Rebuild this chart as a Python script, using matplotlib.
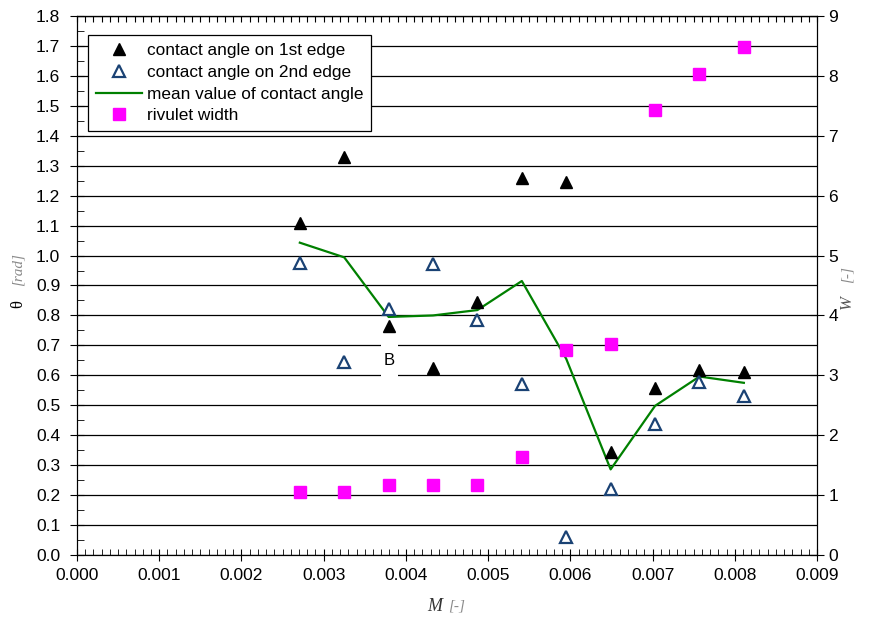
"""Contact angle and rivulet width against M, twin y axes."""
import matplotlib.pyplot as plt
from matplotlib.patches import Rectangle
from matplotlib.ticker import MultipleLocator, NullFormatter

plt.rcParams["font.family"] = ["Liberation Sans", "DejaVu Sans"]

# values
m_values = [0.00271, 0.00325, 0.00379, 0.00433, 0.00487, 0.00541,
            0.00595, 0.00649, 0.00703, 0.00757, 0.00811]
theta_first = [1.109, 1.330, 0.765, 0.625, 0.845, 1.258,
               1.247, 0.345, 0.557, 0.618, 0.612]
theta_second = [0.976, 0.645, 0.822, 0.972, 0.785, 0.571,
                0.061, 0.219, 0.437, 0.579, 0.531]
theta_mean = [1.043, 0.994, 0.795, 0.800, 0.818, 0.915,
              0.655, 0.286, 0.498, 0.596, 0.575]
rivulet_width = [1.06, 1.06, 1.17, 1.17, 1.17, 1.64,
                 3.42, 3.53, 7.43, 8.03, 8.48]

label_pos = (0.0038, 0.651)

fig = plt.figure(figsize=(8.69, 6.22), dpi=100)
ax = fig.add_axes([0.0886, 0.1077, 0.8516, 0.8666])
ax2 = ax.twinx()

ax.set_xlim(0, 0.009)
ax.set_ylim(0, 1.8)
ax2.set_ylim(0, 9)

# horizontal grid
ax.yaxis.grid(True, which="major", color="black", linewidth=0.9)
ax.set_axisbelow(True)

ax.xaxis.set_major_locator(MultipleLocator(0.001))
ax.xaxis.set_minor_locator(MultipleLocator(0.0001))
ax.yaxis.set_major_locator(MultipleLocator(0.1))
ax.yaxis.set_minor_locator(MultipleLocator(0.05))
ax2.yaxis.set_major_locator(MultipleLocator(1))
ax2.yaxis.set_minor_locator(MultipleLocator(0.5))
ax.xaxis.set_major_formatter(plt.FuncFormatter(lambda v, p: f"{v:.3f}"))
ax.yaxis.set_major_formatter(plt.FuncFormatter(lambda v, p: f"{v:.1f}"))

ax.tick_params(axis="x", which="major", direction="inout", length=9,
               labelsize=12.5, pad=5)
ax.tick_params(axis="x", which="minor", direction="in", length=4)
ax.tick_params(axis="y", which="major", direction="inout", length=10,
               labelsize=12.5, pad=7)
ax.tick_params(axis="y", which="minor", direction="in", length=5)
ax2.tick_params(axis="y", which="major", direction="inout", length=10,
                labelsize=12.5, pad=3)
ax2.tick_params(axis="y", which="minor", direction="in", length=5)

# top edge only carries small inward ticks
top = ax.secondary_xaxis("top")
top.xaxis.set_major_locator(MultipleLocator(0.0001))
top.xaxis.set_major_formatter(NullFormatter())
top.tick_params(axis="x", direction="in", length=4)

# white box behind the "B" label
ax.add_patch(Rectangle((label_pos[0] - 0.0001, label_pos[1] - 0.075), 0.0002, 0.15,
                       facecolor="white", edgecolor="none", zorder=1.5))
ax.text(label_pos[0], label_pos[1], "B", ha="center", va="center", fontsize=12, zorder=2)

l_mean, = ax.plot(m_values, theta_mean, color="#008000", linewidth=1.6, zorder=3,
                  label="mean value of contact angle")
l_first, = ax.plot(m_values, theta_first, linestyle="none", marker="^", markersize=9,
                   color="black", zorder=4, label="contact angle on 1st edge")
l_second, = ax.plot(m_values, theta_second, linestyle="none", marker="^", markersize=8,
                    markerfacecolor="white", markeredgecolor="#1a4274",
                    markeredgewidth=1.6, zorder=4, label="contact angle on 2nd edge")
l_width, = ax2.plot(m_values, rivulet_width, linestyle="none", marker="s", markersize=9,
                    color="#ff00ff", zorder=4, label="rivulet width")

leg = ax2.legend([l_first, l_second, l_mean, l_width],
                 [h.get_label() for h in (l_first, l_second, l_mean, l_width)],
                 loc="upper left", bbox_to_anchor=(0.015, 0.965), borderaxespad=0,
                 fontsize=12.4, handlelength=2.7, handletextpad=0.25,
                 labelspacing=0.4, fancybox=False, framealpha=1,
                 edgecolor="black", borderpad=0.45)
leg.get_frame().set_linewidth(0.9)

# axis titles: symbol plus grey unit
ax.text(-0.079, 0.465, "θ", transform=ax.transAxes, rotation=90, ha="center",
        va="center", fontsize=12, family="Liberation Serif")
ax.text(-0.079, 0.53, "[rad]", transform=ax.transAxes, rotation=90, ha="center",
        va="center", fontsize=11, family="Liberation Serif", style="italic",
        color="#8a8a8a")
ax.text(1.040, 0.47, "W", transform=ax.transAxes, rotation=90, ha="center",
        va="center", fontsize=12, family="Liberation Serif", style="italic",
        color="#555555")
ax.text(1.040, 0.52, "[-]", transform=ax.transAxes, rotation=90, ha="center",
        va="center", fontsize=11, family="Liberation Serif", style="italic",
        color="#8a8a8a")
ax.text(0.483, -0.095, "M", transform=ax.transAxes, ha="center", va="center",
        fontsize=13, family="Liberation Serif", style="italic", color="#333333")
ax.text(0.513, -0.095, "[-]", transform=ax.transAxes, ha="center", va="center",
        fontsize=11, family="Liberation Serif", style="italic", color="#8a8a8a")

fig.savefig("out.png", dpi=100)
